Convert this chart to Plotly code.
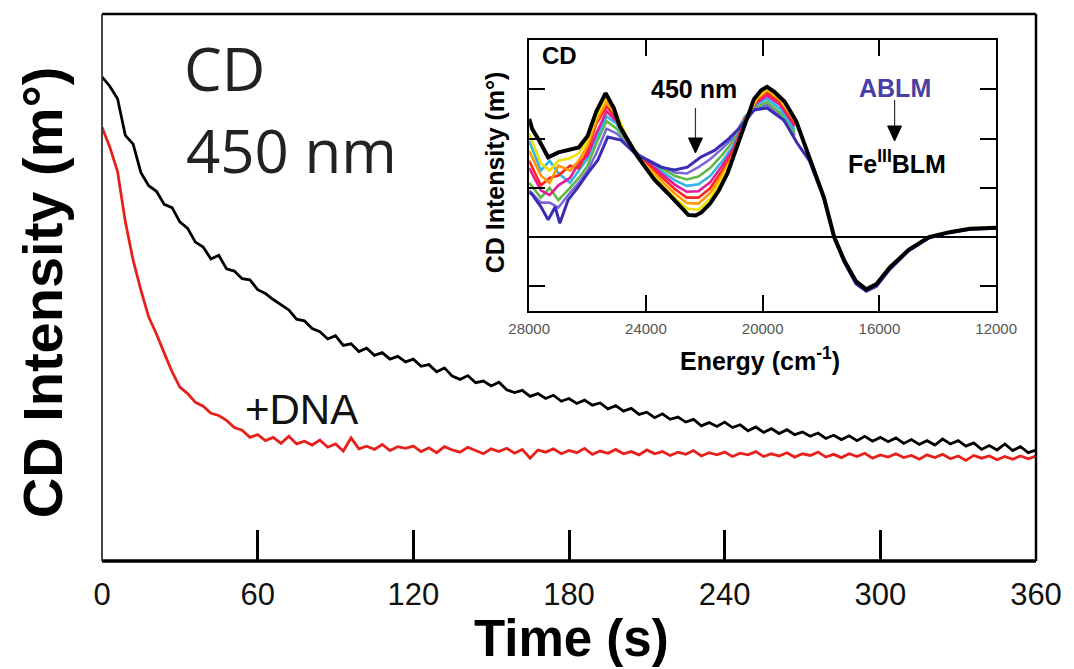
import plotly.graph_objects as go

# ---------------- main kinetic traces (CD at 450 nm) ----------------
time_s = list(range(0, 361, 3))

cd_no_dna = [
    88.5, 86.8, 84.5, 77.8, 76.2, 71.0, 68.6, 67.6, 65.2, 64.6,
    62.0, 60.8, 58.3, 57.4, 55.2, 55.9, 53.4, 53.0, 51.6, 51.4,
    49.6, 48.9, 47.8, 46.9, 45.9, 44.2, 43.9, 42.5, 41.9, 40.6,
    41.2, 39.4, 39.7, 38.3, 38.9, 37.6, 38.1, 36.9, 37.4, 36.4,
    36.9, 35.6, 35.9, 34.6, 35.3, 33.8, 33.2, 33.9, 32.6, 32.9,
    32.0, 32.7, 31.3, 30.8, 31.2, 30.1, 30.6, 29.7, 30.3, 29.2,
    29.7, 28.8, 29.4, 28.5, 28.9, 27.8, 28.4, 27.4, 27.9, 26.8,
    27.2, 26.2, 26.9, 25.9, 26.3, 25.4, 25.9, 24.7, 25.3, 24.6,
    25.4, 24.4, 24.9, 23.8, 24.5, 23.5, 24.2, 23.3, 24.0, 23.1,
    23.6, 22.8, 23.4, 22.4, 23.0, 22.2, 22.9, 22.0, 22.8, 21.9,
    22.6, 21.8, 22.5, 21.5, 22.2, 21.3, 22.0, 21.2, 22.3, 21.4,
    22.0, 21.0, 21.6, 20.4, 21.1, 20.3, 21.4, 20.2, 20.9, 19.8,
    20.3,
]

cd_with_dna = [
    79.3, 75.7, 71.2, 62.0, 55.0, 49.5, 44.6, 41.5, 38.0, 34.6,
    31.8, 30.6, 29.0, 28.3, 27.0, 26.6, 25.7, 24.4, 23.9, 22.6,
    23.1, 22.0, 22.6, 21.5, 22.8, 21.4, 21.9, 21.2, 22.1, 20.8,
    21.4, 20.1, 22.5, 20.5, 21.0, 20.4, 21.3, 20.2, 20.9, 20.6,
    21.0, 20.0, 20.7, 19.8, 20.9, 20.3, 19.9, 20.8, 20.2, 19.6,
    20.5, 20.0, 20.6, 19.7, 20.4, 18.8, 20.3, 19.9, 20.5, 19.6,
    20.2, 19.8, 20.6, 19.5, 20.1, 19.7, 20.4, 19.6, 20.0, 19.4,
    20.3, 19.6, 20.0, 19.3, 19.9, 19.5, 20.2, 19.2, 19.8, 19.4,
    19.9, 19.1, 19.7, 19.4, 20.0, 19.1, 19.6, 19.2, 19.8, 19.0,
    19.6, 19.3, 19.9, 19.0, 19.5, 18.9, 19.6, 19.1, 19.7, 18.8,
    19.4, 19.0, 19.6, 18.9, 19.3, 18.6, 19.4, 18.9, 19.5, 18.7,
    19.2, 18.4, 19.3, 18.8, 19.2, 18.5, 19.1, 18.6, 19.2, 18.7,
    19.2,
]

time_ticks = [0, 60, 120, 180, 240, 300, 360]

# ---------------- inset spectra ----------------
black_E = [28000, 27900, 27650, 27350, 27000, 26650, 26300, 26000, 25700, 25380,
           25100, 24900, 24600, 24300, 24000, 23700, 23250, 22800, 22550, 22300,
           22100, 21800, 21500, 21200, 20900, 20600, 20300, 20050, 19850, 19600,
           19250, 18850, 18400, 17900, 17550, 17200, 16800, 16450, 16100, 15650,
           15000, 14300, 13600, 12900, 12000]
black_cd = [2.40, 2.20, 1.95, 1.62, 1.72, 1.78, 1.82, 2.05, 2.55, 2.92,
            2.62, 2.25, 1.95, 1.65, 1.40, 1.16, 0.89, 0.61, 0.45, 0.44,
            0.50, 0.68, 0.95, 1.30, 1.80, 2.30, 2.80, 2.98, 3.05, 2.95,
            2.75, 2.35, 1.60, 0.80, 0.00, -0.48, -0.90, -1.06, -0.95, -0.62,
            -0.26, 0.00, 0.10, 0.17, 0.19]

blue_E = [28000, 27930, 27590, 27350, 27110, 26950, 26670, 26330, 25990, 25650,
          25310, 24860, 24380, 23940, 23500, 23020, 22580, 22130, 21650, 21210,
          20770, 20290, 19950, 19850, 19270, 18820, 18400, 17900, 17550, 17200,
          16800, 16450, 16100, 15650, 15000, 14300, 13600, 12900, 12000]
blue_cd = [0.89, 0.89, 0.61, 0.35, 0.61, 0.28, 0.75, 1.01, 1.30, 1.56,
           2.03, 1.97, 1.70, 1.56, 1.42, 1.36, 1.42, 1.62, 1.76, 1.97,
           2.23, 2.58, 2.60, 2.62, 2.37, 1.91, 1.55, 0.78, -0.02, -0.52,
           -0.95, -1.10, -1.00, -0.66, -0.28, -0.02, 0.09, 0.16, 0.18]

mid_E = [28000, 27600, 27300, 27000, 26600, 26300, 26000, 25700, 25350, 25000,
         24600, 24200, 23800, 23400, 23000, 22600, 22200, 21800, 21400, 21000,
         20600, 20200, 19850, 19400, 18900]
mid_yellow = [2.10, 1.50, 1.35, 1.55, 1.60, 1.70, 1.95, 2.45, 2.85, 2.50,
              1.95, 1.57, 1.30, 1.02, 0.79, 0.58, 0.55, 0.78, 1.18, 1.62,
              2.32, 2.84, 3.02, 2.82, 2.40]
mid_orange = [1.75, 1.25, 1.10, 1.45, 1.35, 1.55, 1.85, 2.35, 2.75, 2.45,
              1.93, 1.58, 1.35, 1.10, 0.88, 0.69, 0.68, 0.89, 1.26, 1.68,
              2.35, 2.80, 2.98, 2.78, 2.35]
mid_red = [1.55, 1.05, 1.20, 1.25, 1.45, 1.40, 1.75, 2.30, 2.65, 2.40,
           1.92, 1.60, 1.40, 1.18, 0.97, 0.80, 0.80, 0.99, 1.34, 1.74,
           2.38, 2.77, 2.93, 2.74, 2.30]
mid_magenta = [1.40, 0.95, 0.85, 1.05, 1.20, 1.50, 1.65, 2.10, 2.55, 2.35,
               1.91, 1.62, 1.45, 1.25, 1.06, 0.92, 0.93, 1.11, 1.44, 1.80,
               2.40, 2.73, 2.87, 2.68, 2.25]
mid_cyan = [1.95, 1.35, 1.55, 1.30, 1.10, 1.35, 1.60, 2.00, 2.45, 2.30,
            1.90, 1.63, 1.48, 1.31, 1.15, 1.04, 1.07, 1.24, 1.53, 1.86,
            2.42, 2.69, 2.81, 2.60, 2.18]
mid_green = [1.10, 0.80, 1.00, 0.75, 1.00, 1.20, 1.45, 1.90, 2.35, 2.20,
             1.89, 1.64, 1.51, 1.37, 1.24, 1.17, 1.23, 1.40, 1.66, 1.95,
             2.44, 2.64, 2.74, 2.52, 2.12]
mid_violet = [0.95, 0.70, 0.70, 0.60, 0.90, 1.10, 1.35, 1.70, 2.20, 2.10,
              1.88, 1.65, 1.53, 1.41, 1.31, 1.29, 1.42, 1.58, 1.79, 2.02,
              2.45, 2.61, 2.68, 2.46, 2.06]

energy_ticks = [28000, 24000, 20000, 16000, 12000]
energy_labels = ["28000", "24000", "20000", "16000", "12000"]

# ---------------- figure ----------------
W, H = 1074, 669
L, R, T, B = 102, 34, 14, 108
pw, ph = W - L - R, H - T - B


def px(x):
    return (x - L) / pw


def py(y):
    return (H - B - y) / ph


fig = go.Figure()

fig.add_trace(go.Scatter(x=time_s, y=cd_no_dna, mode="lines",
                         line=dict(color="#000000", width=2.8),
                         showlegend=False, xaxis="x", yaxis="y"))
fig.add_trace(go.Scatter(x=time_s, y=cd_with_dna, mode="lines",
                         line=dict(color="#e8201c", width=2.8),
                         showlegend=False, xaxis="x", yaxis="y"))

mids = [
    (mid_violet, "#7b68d6"),
    (mid_green, "#62b844"),
    (mid_cyan, "#2fb6e6"),
    (mid_magenta, "#e21d96"),
    (mid_red, "#ff2323"),
    (mid_orange, "#ff9800"),
    (mid_yellow, "#efe000"),
]
for vals, col in mids:
    fig.add_trace(go.Scatter(x=mid_E, y=vals, mode="lines",
                             line=dict(color=col, width=2.6),
                             showlegend=False, xaxis="x2", yaxis="y2"))
fig.add_trace(go.Scatter(x=blue_E, y=blue_cd, mode="lines",
                         line=dict(color="#3a2db5", width=3),
                         showlegend=False, xaxis="x2", yaxis="y2"))
fig.add_trace(go.Scatter(x=black_E, y=black_cd, mode="lines",
                         line=dict(color="#000000", width=4),
                         showlegend=False, xaxis="x2", yaxis="y2"))

sans = "Liberation Sans, Arial, sans-serif"

inset_x0, inset_x1 = 531, 1000
inset_y0, inset_y1 = 40, 311

fig.update_layout(
    width=W, height=H,
    margin=dict(l=L, r=R, t=T, b=B),
    paper_bgcolor="white", plot_bgcolor="white",
    xaxis=dict(range=[0, 360], tickvals=time_ticks, ticks="inside", ticklen=31,
               tickwidth=3, tickcolor="black", showgrid=False, zeroline=False,
               showline=False, ticklabelstandoff=12,
               tickfont=dict(family=sans, size=31, color="#111")),
    yaxis=dict(range=[0, 100], showticklabels=False, ticks="", showgrid=False,
               zeroline=False, showline=False),
    xaxis2=dict(domain=[px(inset_x0), px(inset_x1)], anchor="y2",
                range=[28000, 12000], tickvals=energy_ticks,
                ticktext=energy_labels,
                ticks="inside", ticklen=16, tickwidth=2, tickcolor="black",
                showline=True, linecolor="black", linewidth=2, mirror="ticks",
                showgrid=False, zeroline=False, ticklabelstandoff=3,
                tickfont=dict(family=sans, size=15, color="#555")),
    yaxis2=dict(domain=[py(inset_y1), py(inset_y0)], anchor="x2",
                range=[-1.5, 4.0], tickvals=[-1, 0, 1, 2, 3],
                ticks="inside", ticklen=16, tickwidth=2, tickcolor="black",
                showline=True, linecolor="black", linewidth=2, mirror="ticks",
                showgrid=False, showticklabels=False,
                zeroline=True, zerolinecolor="black", zerolinewidth=1.6),
)

# main frame
fig.add_shape(type="line", xref="paper", yref="paper", x0=0, x1=1, y0=0, y1=0,
              line=dict(color="black", width=3.5))
fig.add_shape(type="line", xref="paper", yref="paper", x0=0, x1=1, y0=1, y1=1,
              line=dict(color="black", width=2.5))
fig.add_shape(type="line", xref="paper", yref="paper", x0=1, x1=1, y0=0, y1=1,
              line=dict(color="black", width=2.5))
fig.add_shape(type="line", xref="paper", yref="paper", x0=0, x1=0, y0=0, y1=1,
              line=dict(color="#333", width=1.8))

# inset arrows (shaft + filled triangular head)
for (xa, ytail, yhead) in [(698, 108, 153), (898, 100, 141)]:
    fig.add_shape(type="line", xref="paper", yref="paper",
                  x0=px(xa), x1=px(xa), y0=py(ytail), y1=py(yhead - 12),
                  line=dict(color="#333", width=1.2))
    path = "M {:.5f},{:.5f} L {:.5f},{:.5f} L {:.5f},{:.5f} Z".format(
        px(xa - 7), py(yhead - 15), px(xa + 7), py(yhead - 15), px(xa), py(yhead))
    fig.add_shape(type="path", xref="paper", yref="paper", path=path,
                  fillcolor="black", line=dict(color="black", width=1))

ann = [
    dict(text="CD Intensity (m°)", x=px(42), y=py(292), textangle=-90,
         font=dict(family=sans, size=56, color="black", weight="bold")),
    dict(text="Time (s)", x=px(574), y=py(638),
         font=dict(family=sans, size=51, color="black", weight="bold")),
    dict(text="CD", x=px(225), y=py(68),
         font=dict(family="Open Sans, sans-serif", size=60, color="#222")),
    dict(text="450 nm", x=px(292), y=py(150),
         font=dict(family="Open Sans, sans-serif", size=60, color="#222")),
    dict(text="+DNA", x=px(302), y=py(409),
         font=dict(family=sans, size=42, color="#111")),
    dict(text="CD", x=px(561), y=py(55),
         font=dict(family=sans, size=24, color="black", weight="bold")),
    dict(text="450 nm", x=px(697), y=py(89),
         font=dict(family=sans, size=25, color="black", weight="bold")),
    dict(text="ABLM", x=px(898), y=py(88),
         font=dict(family=sans, size=25, color="#4a3fa6", weight="bold")),
    dict(text="Fe<sup>III</sup>BLM", x=px(900), y=py(162),
         font=dict(family=sans, size=25, color="black", weight="bold")),
    dict(text="Energy (cm<sup>-1</sup>)", x=px(763), y=py(359),
         font=dict(family=sans, size=25, color="black", weight="bold")),
    dict(text="CD Intensity (m°)", x=px(497), y=py(172), textangle=-90,
         font=dict(family=sans, size=25, color="black", weight="bold")),
]
for a in ann:
    fig.add_annotation(xref="paper", yref="paper", showarrow=False,
                       xanchor="center", yanchor="middle", **a)

fig.write_html("out.html")
